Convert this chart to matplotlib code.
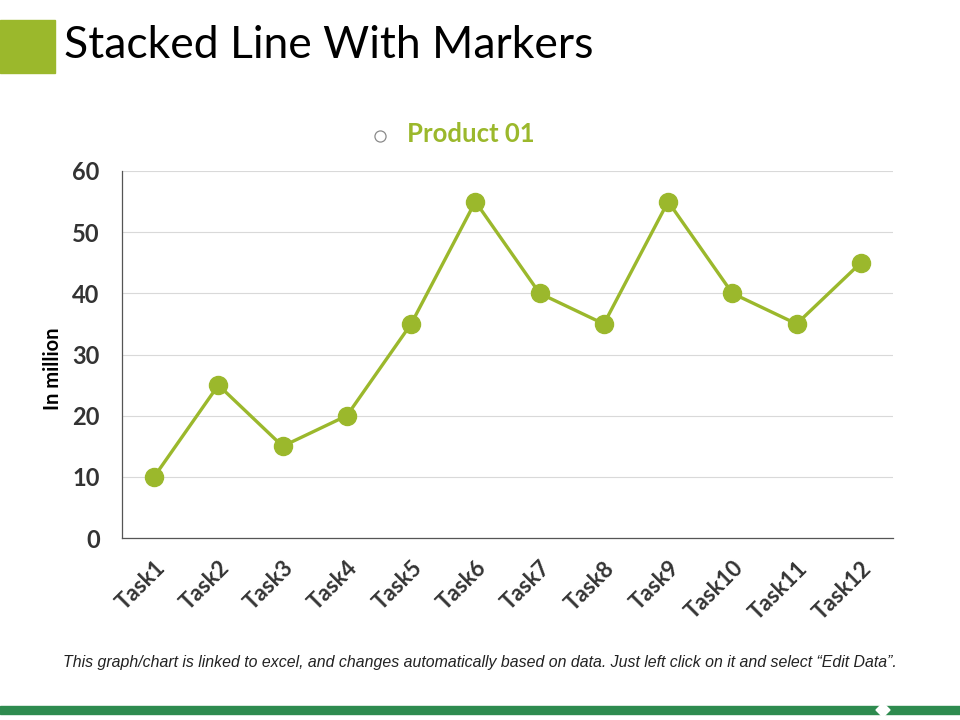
import numpy as np
import matplotlib.pyplot as plt
from matplotlib.patches import Rectangle, Polygon
from matplotlib.lines import Line2D

tasks = ['Task1', 'Task2', 'Task3', 'Task4', 'Task5', 'Task6',
         'Task7', 'Task8', 'Task9', 'Task10', 'Task11', 'Task12']
product01 = [10, 25, 15, 20, 35, 55, 40, 35, 55, 40, 35, 45]
yticks = [0, 10, 20, 30, 40, 50, 60]

green = '#9bb82c'
dark = '#333333'
fam = ['Lato', 'DejaVu Sans']

fig = plt.figure(figsize=(9.6, 7.2), dpi=100)

# header square + title
fig.patches.append(Rectangle((0, 1 - 73 / 720), 55 / 960, 53 / 720,
                             transform=fig.transFigure, color=green))
fig.text(64 / 960, 1 - 46 / 720, 'Stacked Line With Markers', fontsize=32,
         family=fam, color='black', va='center', ha='left')

ax = fig.add_axes([122 / 960, 1 - 538 / 720, (893 - 122) / 960, (538 - 171) / 720])
x = np.arange(len(tasks))
ax.plot(x, product01, color=green, lw=2.4, marker='o', ms=13, zorder=3)
ax.set_xlim(-0.5, len(tasks) - 0.5)
ax.set_ylim(0, 60)
ax.set_yticks(yticks)
ax.set_xticks(x)
ax.set_xticklabels(tasks, rotation=45, ha='right', rotation_mode='anchor')
ax.tick_params(length=0, colors=dark)
ax.tick_params(axis='y', labelsize=17, pad=16)
ax.tick_params(axis='x', labelsize=16, pad=14)
for lab in ax.get_xticklabels() + ax.get_yticklabels():
    lab.set_fontweight('bold')
    lab.set_family(fam)
ax.grid(axis='y', color='#d9d9d9', lw=0.8)
ax.set_axisbelow(True)
for s in ['top', 'right']:
    ax.spines[s].set_visible(False)
for s in ['left', 'bottom']:
    ax.spines[s].set_color('#555555')
    ax.spines[s].set_linewidth(0.9)
ax.set_ylabel('In million', fontsize=14.5, fontweight='bold', color='black',
              family=fam)
ax.yaxis.set_label_coords(-59 / 771, 0.46)

# legend
fig.lines.append(Line2D([380 / 960], [1 - 136 / 720], transform=fig.transFigure,
                        marker='o', ms=8, mfc='none', mec='#8a8a8a', mew=0.9,
                        ls='none'))
fig.text(407 / 960, 1 - 134 / 720, 'Product 01', fontsize=18.5, color=green,
         fontweight='bold', ha='left', va='center', family=fam)

# footnote
fig.text(480 / 960, 1 - 663 / 720,
         'This graph/chart is linked to excel, and changes automatically based on data. '
         'Just left click on it and select \u201cEdit Data\u201d.',
         fontsize=11.4, style='italic', color='#222222', ha='center', va='center',
         family=['Liberation Sans Narrow', 'Liberation Sans', 'DejaVu Sans'])

# bottom band
fig.patches.append(Rectangle((0, 1 - 714 / 720), 1, 8 / 720,
                             transform=fig.transFigure, color='#2e8b4f'))
fig.patches.append(Polygon([(876 / 960, 1 - 710 / 720), (883 / 960, 1 - 703 / 720),
                            (890 / 960, 1 - 710 / 720), (883 / 960, 1 - 717 / 720)],
                           closed=True, transform=fig.transFigure, color='white'))

fig.savefig('out.png', dpi=100)
